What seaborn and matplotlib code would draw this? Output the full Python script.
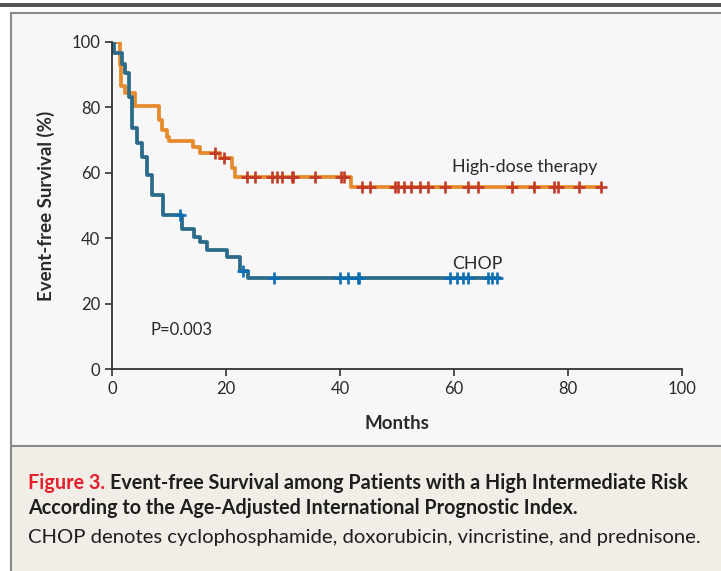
import numpy as np
import pandas as pd
import matplotlib
matplotlib.use('Agg')
import matplotlib.pyplot as plt
from matplotlib.patches import Rectangle
import seaborn as sns

# step points of the Kaplan-Meier curves (months, % event-free)
hd_months = [0, 1.4, 1.6, 2.3, 4.0, 8.2, 8.8, 9.6, 10.0, 14.2, 15.4, 18.9, 21.0, 21.5, 42.0, 85.8]
hd_surv = [100, 93, 86.4, 84.3, 80.4, 76, 73, 71, 69.8, 68, 66.2, 64.6, 61.5, 58.8, 55.6, 55.6]
hd_censored = [18.1, 19.6, 23.6, 25.1, 28.0, 28.9, 29.8, 31.5, 31.8, 35.6, 40.2, 40.7,
               43.8, 45.3, 49.6, 50.1, 51.3, 52.5, 54.0, 55.5, 58.4, 62.4, 64.2, 70.1,
               74.1, 77.6, 78.2, 82.0, 85.8]

chop_months = [0, 0.4, 1.7, 2.3, 2.9, 3.5, 4.3, 5.2, 6.1, 7.0, 9.0, 12.2, 14.3, 15.4,
               16.6, 20.1, 22.5, 23.9, 68.0]
chop_surv = [100, 96.5, 93.4, 90.4, 83.3, 73.6, 69.0, 64.9, 59.3, 53.2, 47.1, 42.9, 40.5,
             38.7, 36.5, 34.3, 29.9, 27.7, 27.7]
chop_censored = [12.0, 22.9, 28.4, 40.0, 41.4, 43.2, 43.4, 59.3, 60.5, 61.5, 62.4, 65.9,
                 66.6, 67.5]

x_ticks = [0, 20, 40, 60, 80, 100]
y_ticks = [0, 20, 40, 60, 80, 100]

ORANGE = '#e68b2b'
ORANGE_MARK = '#c23b26'
BLUE = '#2b6a88'
BLUE_MARK = '#0b6db2'
TEXT = '#2a2a2a'


def km_frame(months, surv):
    return pd.DataFrame({'months': months, 'survival': surv})


def censor_frame(months, surv, censored):
    # survival value of the step curve at each censoring time
    idx = np.searchsorted(months, censored, side='right') - 1
    return pd.DataFrame({'months': censored, 'survival': np.asarray(surv)[idx]})


sns.set_style('ticks')
plt.rcParams['font.family'] = ['Lato', 'DejaVu Sans']

fig = plt.figure(figsize=(7.21, 5.71), dpi=100)
W, H = 721, 571


def px_rect(x0, y0, x1, y1, **kw):
    # rectangle given in pixel coords from the top-left corner
    return Rectangle((x0 / W, 1 - y1 / H), (x1 - x0) / W, (y1 - y0) / H,
                     transform=fig.transFigure, figure=fig, zorder=-10, **kw)


fig.patches.append(px_rect(-5, 3.5, 730, 6.5, facecolor='#555555', edgecolor='none'))
fig.patches.append(px_rect(11, 13, 730, 446, facecolor='#f7f7f7', edgecolor='#8a8a8a', linewidth=1.5))
fig.patches.append(px_rect(11, 446, 730, 580, facecolor='#f1ede7', edgecolor='#8a8a8a', linewidth=1.5))

ax = fig.add_axes([112 / W, 1 - 369 / H, (682 - 112) / W, (369 - 42) / H])
ax.set_facecolor('none')
ax.set_zorder(5)

sns.lineplot(data=km_frame(hd_months, hd_surv), x='months', y='survival', ax=ax,
             drawstyle='steps-post', estimator=None, color=ORANGE, linewidth=2.7)
sns.lineplot(data=km_frame(chop_months, chop_surv), x='months', y='survival', ax=ax,
             drawstyle='steps-post', estimator=None, color=BLUE, linewidth=2.7)
sns.scatterplot(data=censor_frame(hd_months, hd_surv, hd_censored), x='months', y='survival',
                ax=ax, marker='+', s=80, linewidth=1.9, color=ORANGE_MARK, zorder=5)
sns.scatterplot(data=censor_frame(chop_months, chop_surv, chop_censored), x='months', y='survival',
                ax=ax, marker='+', s=80, linewidth=1.9, color=BLUE_MARK, zorder=5)

ax.set_xlim(0, 100)
ax.set_ylim(0, 100)
ax.set_xticks(x_ticks)
ax.set_yticks(y_ticks)
ax.tick_params(axis='both', direction='out', length=5, width=1.2, colors='#333333',
               labelsize=12, labelcolor=TEXT)
sns.despine(ax=ax)
for side in ['left', 'bottom']:
    ax.spines[side].set_linewidth(1.3)
    ax.spines[side].set_color('#333333')

ax.set_xlabel('Months', fontsize=13.5, fontweight='bold', color=TEXT, labelpad=13)
ax.set_ylabel('Event-free Survival (%)', fontsize=13.5, fontweight='bold', color=TEXT, labelpad=12)

ax.text(59.6, 59.2, 'High-dose therapy', fontsize=12.8, color=TEXT, va='bottom')
ax.text(59.6, 29.8, 'CHOP', fontsize=12.8, color=TEXT, va='bottom')
ax.text(6.7, 11.9, 'P=0.003', fontsize=12, color=TEXT, va='center')

# caption
fig.canvas.draw()
renderer = fig.canvas.get_renderer()
t1 = fig.text(28 / W, 1 - 483 / H, 'Figure 3.', fontsize=14.2, fontweight='bold',
              color='#e3202b', va='center')
ext = t1.get_window_extent(renderer)
fig.text((ext.x1 + 5) / W, 1 - 483 / H,
         'Event-free Survival among Patients with a High Intermediate Risk',
         fontsize=14.2, fontweight='bold', color='#1e1e1e', va='center')
fig.text(28 / W, 1 - 508 / H, 'According to the Age-Adjusted International Prognostic Index.',
         fontsize=14.2, fontweight='bold', color='#1e1e1e', va='center')
fig.text(28 / W, 1 - 538 / H,
         'CHOP denotes cyclophosphamide, doxorubicin, vincristine, and prednisone.',
         fontsize=14.6, color='#1e1e1e', va='center')

fig.savefig('out.png', dpi=100)
